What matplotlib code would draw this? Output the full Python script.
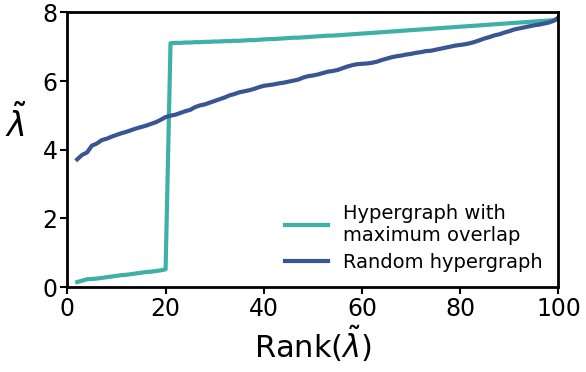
import numpy as np
import matplotlib.pyplot as plt

ranks = np.arange(2, 101)

# eigenvalues of the maximum-overlap hypergraph, sorted
overlap_vals = [
    0.15, 0.19, 0.23, 0.24, 0.25, 0.27, 0.29, 0.31, 0.33, 0.35,
    0.36, 0.38, 0.40, 0.42, 0.44, 0.45, 0.47, 0.49, 0.52,
    7.10, 7.11, 7.11, 7.12, 7.12, 7.13, 7.13, 7.14, 7.14, 7.15,
    7.15, 7.16, 7.16, 7.17, 7.17, 7.18, 7.19, 7.19, 7.20, 7.21,
    7.22, 7.22, 7.23, 7.24, 7.25, 7.26, 7.26, 7.27, 7.28, 7.29,
    7.30, 7.31, 7.32, 7.32, 7.33, 7.34, 7.35, 7.36, 7.37, 7.38,
    7.39, 7.40, 7.41, 7.42, 7.43, 7.44, 7.45, 7.46, 7.47, 7.48,
    7.49, 7.50, 7.51, 7.52, 7.53, 7.54, 7.55, 7.56, 7.57, 7.58,
    7.59, 7.60, 7.61, 7.62, 7.63, 7.64, 7.65, 7.66, 7.67, 7.68,
    7.69, 7.70, 7.71, 7.72, 7.73, 7.74, 7.75, 7.76, 7.77, 7.78,
]

# eigenvalues of the random hypergraph, sorted
random_vals = [
    3.72, 3.85, 3.92, 4.12, 4.18, 4.28, 4.32, 4.38, 4.43,
    4.48, 4.52, 4.57, 4.62, 4.66, 4.70, 4.75, 4.80, 4.87, 4.95,
    4.99, 5.02, 5.07, 5.12, 5.16, 5.24, 5.29, 5.32, 5.37, 5.42,
    5.47, 5.52, 5.58, 5.62, 5.67, 5.70, 5.73, 5.77, 5.82, 5.86,
    5.88, 5.90, 5.93, 5.95, 5.98, 6.01, 6.04, 6.10, 6.14, 6.16,
    6.19, 6.23, 6.27, 6.29, 6.32, 6.37, 6.42, 6.46, 6.49, 6.50,
    6.51, 6.53, 6.56, 6.61, 6.65, 6.69, 6.72, 6.74, 6.77, 6.79,
    6.82, 6.84, 6.87, 6.88, 6.91, 6.94, 6.97, 7.00, 7.03, 7.05,
    7.07, 7.10, 7.14, 7.19, 7.24, 7.28, 7.33, 7.36, 7.41, 7.45,
    7.50, 7.53, 7.56, 7.59, 7.62, 7.64, 7.67, 7.70, 7.75, 7.85,
]

fig, ax = plt.subplots(figsize=(5.86, 3.72), dpi=100)
ax.plot(ranks, overlap_vals, color='#3eb1a6', lw=3,
        label='Hypergraph with\nmaximum overlap')
ax.plot(ranks, random_vals, color='#3a5593', lw=3,
        label='Random hypergraph')

ax.set_xlim(0, 100)
ax.set_ylim(0, 8)
ax.set_xticks([0, 20, 40, 60, 80, 100])
ax.set_yticks([0, 2, 4, 6, 8])
ax.tick_params(labelsize=17, width=1.5, length=5, pad=2)
for s in ax.spines.values():
    s.set_linewidth(2)

ax.set_xlabel(r'Rank($\tilde{\lambda}$)', fontsize=22, labelpad=2)
ax.set_ylabel(r'$\tilde{\lambda}$', fontsize=24, rotation=0)
ax.yaxis.set_label_coords(-0.105, 0.52)

ax.legend(loc='lower right', frameon=False, fontsize=14,
          handlelength=2.2, borderaxespad=0.4, labelspacing=0.4)

fig.subplots_adjust(left=0.115, right=0.953, top=0.967, bottom=0.228)
fig.savefig('out.png')
